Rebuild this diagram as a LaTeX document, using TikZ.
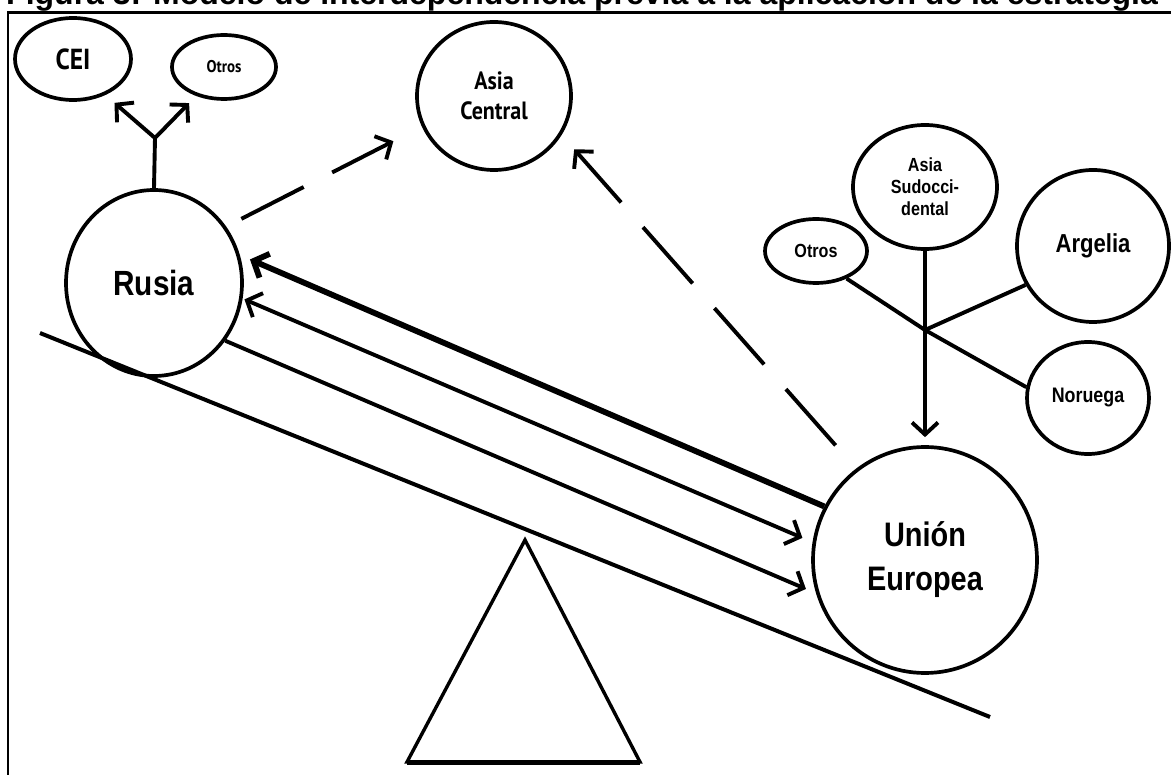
\documentclass[tikz,border=0pt]{standalone}
\usepackage{fontspec}
\usetikzlibrary{shapes.geometric,arrows.meta}
\setmainfont{Liberation Sans}
\newfontfamily\narrowsans[FakeStretch=0.85]{Liberation Sans}
\newfontfamily\humansans[FakeStretch=0.88]{PT Sans}

\begin{document}
\begin{tikzpicture}[x=1pt,y=-1pt,
  region/.style={ellipse, draw, line width=3.7pt, inner sep=0pt, align=center},
  link/.style={line width=3.9pt},
  arr/.style={link, -{Straight Barb[length=12pt,width=26pt]}},
  biarr/.style={link, {Straight Barb[length=12pt,width=26pt]}-{Straight Barb[length=12pt,width=26pt]}},
  dashA/.style={dash pattern=on 70pt off 32pt},
  dashB/.style={dash pattern=on 75pt off 33pt},
]
\useasboundingbox (0,0) rectangle (1171,775);
\clip (0,0) rectangle (1171,775);

% caption and frame
\node[anchor=base west, inner sep=0pt, font=\bfseries\fontsize{32pt}{38pt}\selectfont] (caption) at (6,4.5)
  {Figura 3: Modelo de interdependencia previa a la aplicación de la estrategia};
\draw[line width=2.6pt] (7,12.5) -- (1200,12.5);
\draw[line width=1.8pt] (8,12.5) -- (8,800);

% regions
\node[region, minimum width=116pt, minimum height=82pt,
      font=\humansans\bfseries\fontsize{29pt}{32pt}\selectfont] (cei) at (73,59) {CEI};
\node[region, minimum width=104pt, minimum height=64pt,
      font=\humansans\bfseries\fontsize{17pt}{20pt}\selectfont] (otrosA) at (224,67) {Otros};
\node[region, minimum width=154pt, minimum height=148pt,
      font=\humansans\bfseries\fontsize{25pt}{30pt}\selectfont] (asiac) at (494,96) {Asia\\Central};
\node[region, minimum width=176pt, minimum height=186pt,
      font=\narrowsans\bfseries\fontsize{35pt}{40pt}\selectfont] (rusia) at (154,283) {Rusia};
\node[region, minimum width=144pt, minimum height=124pt,
      font=\narrowsans\bfseries\fontsize{19pt}{22pt}\selectfont] (asiasud) at (925,187) {Asia\\Sudocci-\\dental};
\node[region, minimum width=102pt, minimum height=64pt,
      font=\narrowsans\bfseries\fontsize{19pt}{22pt}\selectfont] (otrosB) at (816,251) {Otros};
\node[region, minimum width=152pt, minimum height=152pt,
      font=\narrowsans\bfseries\fontsize{26pt}{30pt}\selectfont] (argelia) at (1093,246) {Argelia};
\node[region, minimum width=122pt, minimum height=112pt,
      font=\narrowsans\bfseries\fontsize{21pt}{24pt}\selectfont] (noruega) at (1088,398) {Noruega};
\node[region, minimum width=224pt, minimum height=226pt,
      font=\narrowsans\bfseries\fontsize{34pt}{44pt}\selectfont] (ue) at (925,560) {Unión\\Europea};

% branch above Rusia
\coordinate (j1) at (155,138);
\draw[link] (rusia.north) -- (j1);
\draw[arr, shorten >=12pt] (j1) -- (cei.-48.5);
\draw[arr, shorten >=10pt] (j1) -- (otrosA.-134);

% dashed links to Asia Central
\draw[arr, dashA, shorten <=17pt, shorten >=32pt] (rusia.38) -- (asiac.203);
\draw[arr, dashB, shorten <=31pt, shorten >=19pt] (ue.127) -- (asiac.-30);

% links between Rusia and Union Europea
\draw[arr, line width=5.8pt, shorten >=11pt] (ue.152) -- (rusia.18);
\draw[biarr, shorten <=2pt, shorten >=11pt] (rusia.-10) -- (ue.171.5);
\draw[arr, shorten >=11pt] (rusia.-39) -- (ue.197);

% suppliers of Union Europea
\coordinate (j2) at (925,330);
\draw[link] (otrosB.-42) -- (j2) -- (noruega.170);
\draw[link] (j2) -- (argelia.210);
\draw[arr, shorten >=8pt] (asiasud.south) -- (ue.north);

% balance: board and fulcrum
\draw[line width=4pt] (40,333) -- (990,717);
\draw[line width=3.4pt, line join=miter] (525,540) -- (407,762) -- (640,762) -- cycle;
\draw[line width=5pt] (407,762) -- (640,762);
\end{tikzpicture}
\end{document}
